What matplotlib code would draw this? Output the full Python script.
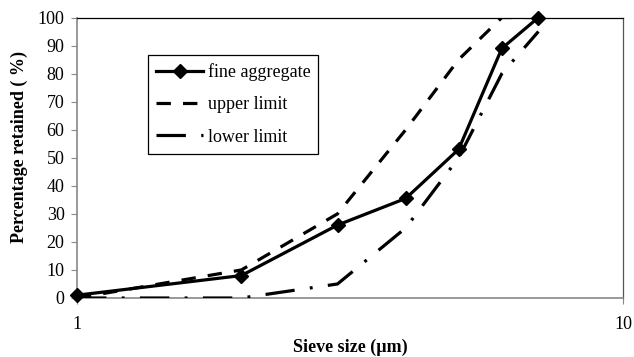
import matplotlib
matplotlib.use("Agg")
import matplotlib.pyplot as plt

sieve_size = [1, 2, 3, 4, 5, 6, 7]
fine_aggregate = [1, 8, 26, 35.5, 53, 89, 100]
upper_limit = [0, 10, 30, 60, 85, 100, 100]
lower_limit = [0, 0, 5, 25, 50, 80, 95]

x_ticks = [1, 10]
y_ticks = [0, 10, 20, 30, 40, 50, 60, 70, 80, 90, 100]

plt.rcParams['font.family'] = ['Liberation Serif', 'DejaVu Serif']

fig = plt.figure(figsize=(6.34, 3.57), dpi=100)
ax = fig.add_axes([77/634, 1-298/357, 546/634, 280.5/357])

lw = 2.3
ax.plot(sieve_size, fine_aggregate, color='black', lw=lw, marker='D', ms=7.5,
        label='fine aggregate', solid_joinstyle='miter', clip_on=False, zorder=4)
ax.plot(sieve_size, upper_limit, color='black', lw=lw, dashes=(4.5, 3.8),
        dash_capstyle='butt', label='upper limit', zorder=3)
ax.plot(sieve_size, lower_limit, color='black', lw=lw, dashes=(9.2, 4.8, 0.9, 4.8),
        dash_capstyle='butt', label='lower limit', zorder=3)

ax.set_xscale('log')
ax.set_xlim(1, 10)
ax.set_ylim(0, 100)
ax.set_xticks(x_ticks)
ax.set_xticklabels([str(v) for v in x_ticks])
ax.xaxis.set_minor_locator(matplotlib.ticker.NullLocator())
ax.set_yticks(y_ticks)
ax.set_yticklabels([str(v) for v in y_ticks])

ax.tick_params(axis='x', length=4, color='#888888', labelsize=13, pad=9, direction='out')
ax.tick_params(axis='y', length=4, color='#888888', labelsize=13, pad=5, direction='out')

for s in ['left', 'bottom']:
    ax.spines[s].set_color('#888888')
    ax.spines[s].set_linewidth(1.2)
ax.spines['top'].set_color('black')
ax.spines['top'].set_linewidth(0.9)
ax.spines['right'].set_color('#555555')
ax.spines['right'].set_linewidth(0.9)

ax.set_xlabel('Sieve size (µm)', fontsize=13, fontweight='bold')
ax.xaxis.set_label_coords(0.5, -0.146)
ax.set_ylabel('Percentage retained ( %)', fontsize=13, fontweight='bold')
ax.yaxis.set_label_coords(-0.09, 0.537)

leg = ax.legend(loc='upper left', bbox_to_anchor=(0.130, 0.866), borderaxespad=0,
                frameon=True, fancybox=False, edgecolor='black', framealpha=1,
                fontsize=13, handlelength=2.6, handletextpad=0.25,
                labelspacing=0.85, borderpad=0.45)
leg.get_frame().set_linewidth(0.9)

fig.savefig('out.png', dpi=100)
